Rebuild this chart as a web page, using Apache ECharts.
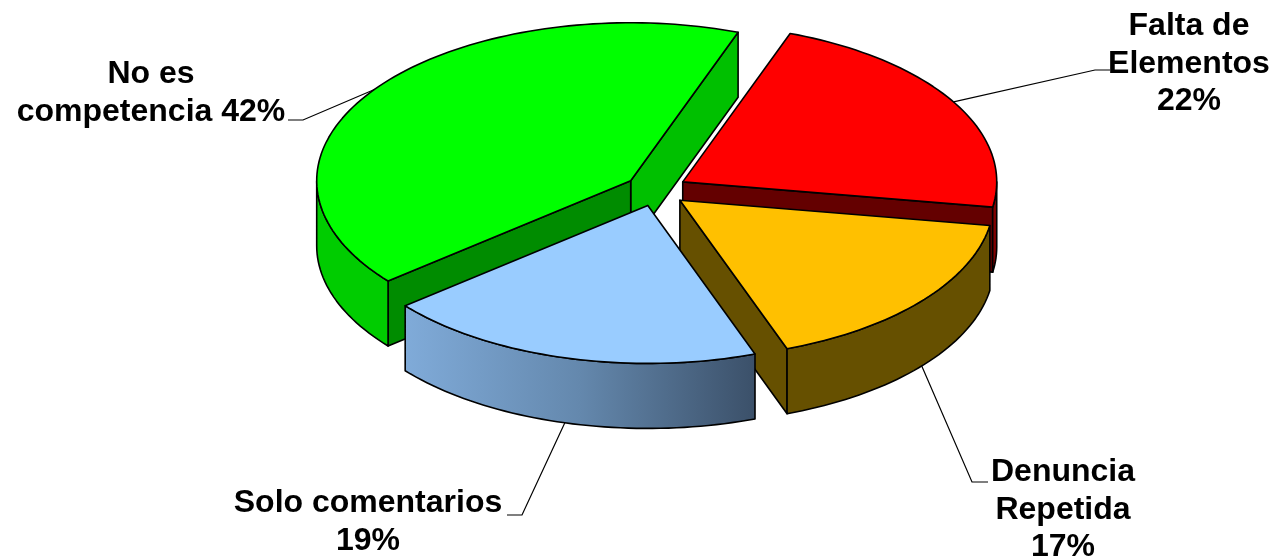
<!DOCTYPE html>
<html>
<head>
<meta charset="utf-8">
<style>html,body{margin:0;padding:0;background:#fff}#c{width:1275px;height:559px}</style>
<script src="https://cdn.jsdelivr.net/npm/echarts@6/dist/echarts.min.js"></script>
</head>
<body>
<div id="c"></div>
<script>
// Data, clockwise from the first slice
const categories = ['Falta de\nElementos\n22%', 'Denuncia\nRepetida\n17%', 'Solo comentarios\n19%', 'No es\ncompetencia 42%'];
const values = [22, 16.9, 19.6, 41.5];

// Styling per slice
const topColors = ['#ff0000', '#ffc000', '#99ccff', '#00ff00'];
const outerColors = ['#800000', '#665000', null, '#00cc00'];
const endFaceColors = ['#640000', '#665000', '#7fa9d5', '#00c000'];
const startFaceColors = ['#640000', '#665000', '#7fa9d5', '#008c00'];
const drawOrder = [0, 3, 1, 2];

// Layout
const CX = 656, CY = 190, RX = 314, RY = 158, DEPTH = 65, EX = 31, EY = 16, START = 20;
const labelPos = [[1189, 64], [1063, 510], [368, 522], [151, 93]];
const elbows = [[[1095, 70], [1110, 70]], [[972, 482], [988, 482]], [[522, 515], [507, 515]], [[303, 120], [288, 120]]];

const rad = d => d * Math.PI / 180;
const total = values.reduce((a, b) => a + b, 0);
let cum = START;
const slices = values.map(v => { const s = cum; cum += v / total * 360; return { s, e: cum, m: (s + cum) / 2 }; });

function build(i) {
  const sl = slices[i];
  const cx = CX + EX * Math.sin(rad(sl.m));
  const cy = CY - EY * Math.cos(rad(sl.m));
  const pt = (a, dz) => [cx + RX * Math.sin(rad(a)), cy - RY * Math.cos(rad(a)) + (dz || 0)];
  const arc = (a0, a1, dz) => {
    const n = Math.max(2, Math.ceil(Math.abs(a1 - a0) / 1.5));
    const out = [];
    for (let k = 0; k <= n; k++) out.push(pt(a0 + (a1 - a0) * k / n, dz));
    return out;
  };
  const stroke = { stroke: '#000', lineWidth: 1.6, lineJoin: 'round' };
  const poly = (points, fill) => ({ type: 'polygon', shape: { points }, style: Object.assign({ fill }, stroke) });
  const children = [];
  const apex = [cx, cy], apexB = [cx, cy + DEPTH];
  // Flat faces are drawn only when they turn toward the viewer
  if (Math.sin(rad(sl.e)) > 0) children.push(poly([apex, pt(sl.e), pt(sl.e, DEPTH), apexB], endFaceColors[i]));
  if (Math.sin(rad(sl.s)) < 0) children.push(poly([apex, pt(sl.s), pt(sl.s, DEPTH), apexB], startFaceColors[i]));
  // Outer wall: only the front half of the ellipse (90..270 deg, or +360)
  [[90, 270], [450, 630]].forEach(([f0, f1]) => {
    const a0 = Math.max(sl.s, f0), a1 = Math.min(sl.e, f1);
    if (a1 > a0) {
      const pts = arc(a0, a1, 0).concat(arc(a1, a0, DEPTH));
      let fill = outerColors[i];
      if (!fill) {
        fill = new echarts.graphic.LinearGradient(0, 0, 1, 0, [
          { offset: 0, color: '#80abd9' }, { offset: 0.5, color: '#6488ad' }, { offset: 1, color: '#3b5069' }
        ]);
      }
      children.push(poly(pts, fill));
    }
  });
  // Top face
  children.push(poly([apex].concat(arc(sl.s, sl.e, 0)), topColors[i]));
  // Leader line, anchored on the slice's mid-angle rim
  const midFront = Math.cos(rad(sl.m)) < 0;
  const anchor = pt(sl.m, midFront ? DEPTH : 0);
  children.push({ type: 'polyline', shape: { points: [anchor].concat(elbows[i]) },
    style: { stroke: '#000', lineWidth: 1.2, fill: null } });
  // Label
  children.push({ type: 'text', x: labelPos[i][0], y: labelPos[i][1],
    style: { text: categories[i], fill: '#000', align: 'center', verticalAlign: 'middle',
      font: 'bold 32px "Liberation Sans", Arial, sans-serif', lineHeight: 37.5 } });
  return { type: 'group', children };
}

const chart = echarts.init(document.getElementById('c'), null, { renderer: 'canvas' });
chart.setOption({
  animation: false,
  backgroundColor: '#fff',
  series: drawOrder.map((i, z) => ({
    type: 'custom',
    coordinateSystem: 'none',
    name: categories[i].replace(/\n/g, ' '),
    z: z + 2,
    silent: true,
    data: [values[i]],
    renderItem: () => build(i)
  }))
});
</script>
</body>
</html>
